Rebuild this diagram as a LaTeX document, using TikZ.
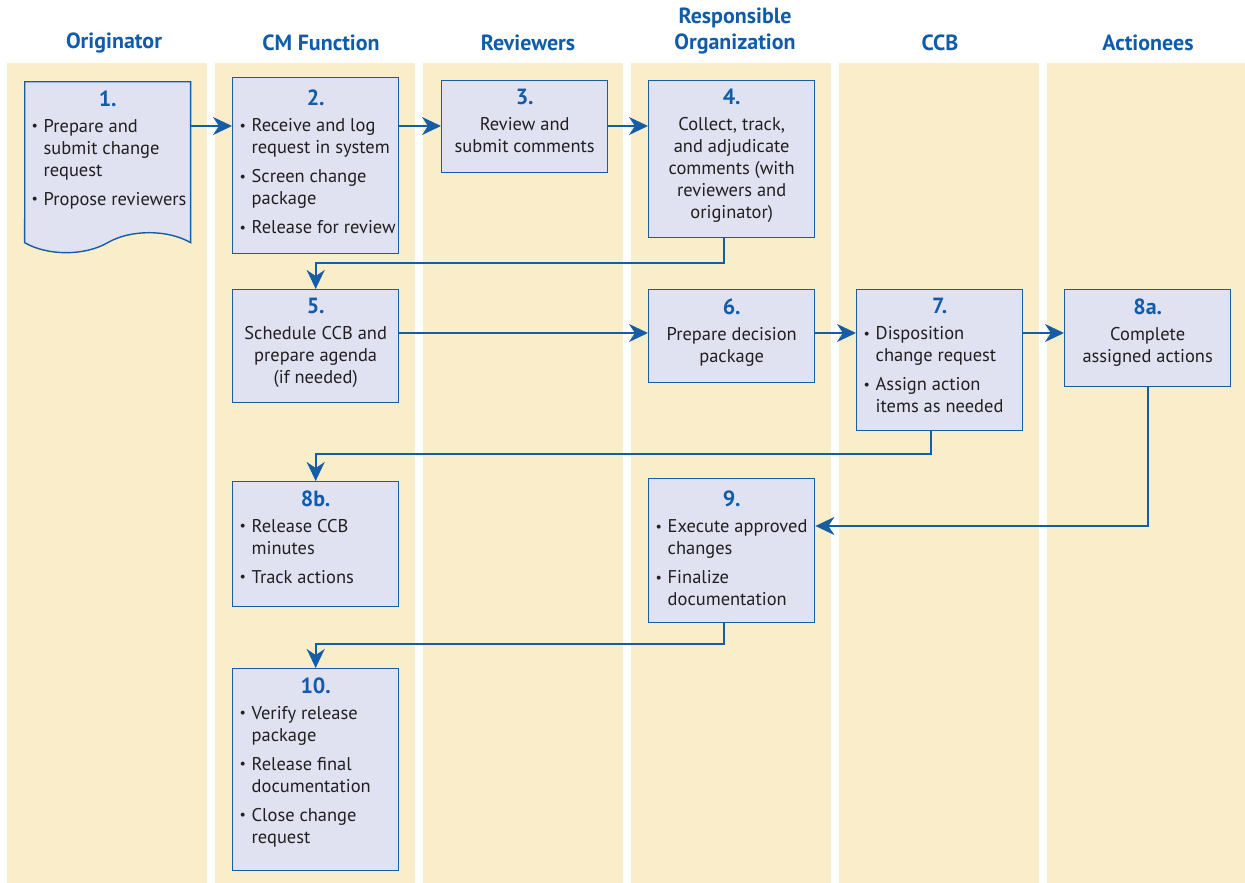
\documentclass[tikz,border=0pt]{standalone}
\usepackage{fontspec}
\setmainfont{PT Sans}
\usepackage{tikz}
\definecolor{laneyellow}{RGB}{249, 238, 201}
\definecolor{taskfill}{RGB}{224, 226, 242}
\definecolor{flowblue}{RGB}{22, 93, 168}
\definecolor{headblue}{RGB}{16, 92, 170}
\definecolor{textgray}{RGB}{35, 31, 32}
\usetikzlibrary{arrows.meta, shapes.symbols}

\newcommand{\taskbody}[2]{\parbox[c][#1][t]{3.32cm}{\fontsize{10.5}{12.5}\selectfont\color{textgray}\raggedright\vspace*{5pt}#2}}
\newcommand{\stepno}[1]{{\centering\color{headblue}\fontsize{12.5}{14}\selectfont\bfseries #1\par}\vspace{2.3pt}}
\newcommand{\bdot}{\raisebox{0.15ex}{\footnotesize\textbullet}}
\newcommand{\bitem}[1]{\par\begingroup\leftskip=0.38cm\noindent\llap{\makebox[0.24cm][l]{\bdot}}#1\par\endgroup\vspace{4pt}}
\newcommand{\ctext}[1]{\par{\centering #1\par}}

\begin{document}
\begin{tikzpicture}[
    x=0.02cm, y=-0.02cm,
    lane/.style={fill=laneyellow},
    lanehead/.style={text=headblue, font=\fontsize{12.5}{14.7}\selectfont\bfseries, align=center, inner sep=0pt},
    taskbox/.style={draw=flowblue, line width=0.8pt, fill=taskfill, inner sep=0pt, anchor=north west},
    flow/.style={draw=flowblue, line width=1.1pt, -{Stealth[length=3.8mm, width=3.6mm, inset=1.2mm]}}
]
    \useasboundingbox (0,0) rectangle (1245,883);

    \fill[lane] (7,63) rectangle (207,883);
    \fill[lane] (215,63) rectangle (415,883);
    \fill[lane] (423,63) rectangle (623,883);
    \fill[lane] (631,63) rectangle (831,883);
    \fill[lane] (839,63) rectangle (1039,883);
    \fill[lane] (1047,63) rectangle (1245,883);

    \node[lanehead] (h1) at (114,43) {Originator};
    \node[lanehead] (h2) at (321,43) {CM Function};
    \node[lanehead] (h3) at (528,43) {Reviewers};
    \node[lanehead] (h4) at (735,31) {Responsible\\Organization};
    \node[lanehead] (h5) at (940,43) {CCB};
    \node[lanehead] (h6) at (1148,43) {Actionees};

    \coordinate (row1) at (0,126);
    \coordinate (row2) at (0,333);

    \node[taskbox, shape=tape, tape bend top=none, tape bend bottom=in and out, tape bend height=0.4cm] (s1) at (24,81) {
        \taskbody{3.02cm}{\stepno{1.}\bitem{Prepare and\\submit change\\request}\bitem{Propose reviewers}}
    };
    \node[taskbox] (s2) at (232,77) {
        \taskbody{3.52cm}{\vspace*{2pt}\stepno{2.}\bitem{Receive and log\\request in system}\bitem{Screen change\\package}\bitem{Release for review}}
    };
    \node[taskbox] (s3) at (441,80) {
        \taskbody{1.84cm}{\stepno{3.}\ctext{Review and\\submit comments}}
    };
    \node[taskbox] (s4) at (648,80) {
        \taskbody{3.14cm}{\stepno{4.}\ctext{Collect, track,\\and adjudicate\\comments (with\\reviewers and\\originator)}}
    };
    \node[taskbox] (s5) at (232,289) {
        \taskbody{2.26cm}{\stepno{5.}\ctext{Schedule CCB and\\prepare agenda\\(if needed)}}
    };
    \node[taskbox] (s6) at (648,289) {
        \taskbody{1.86cm}{\stepno{6.}\ctext{Prepare decision\\package}}
    };
    \node[taskbox] (s7) at (856,289) {
        \taskbody{2.82cm}{\stepno{7.}\bitem{Disposition\\change request}\bitem{Assign action\\items as needed}}
    };
    \node[taskbox] (s8a) at (1064,289) {
        \taskbody{1.94cm}{\stepno{8a.}\ctext{Complete\\assigned actions}}
    };
    \node[taskbox] (s8b) at (232,481) {
        \taskbody{2.50cm}{\stepno{8b.}\bitem{Release CCB\\minutes}\bitem{Track actions}}
    };
    \node[taskbox] (s9) at (648,478) {
        \taskbody{2.88cm}{\vspace*{2pt}\stepno{9.}\bitem{Execute approved\\changes}\bitem{Finalize\\documentation}}
    };
    \node[taskbox] (s10) at (232,668) {
        \taskbody{4.04cm}{\stepno{10.}\bitem{Verify release\\package}\bitem{Release final\\documentation}\bitem{Close change\\request}}
    };

    \draw[flow] (s1.east |- row1) -- (s2.west |- row1);
    \draw[flow] (s2.east |- row1) -- (s3.west |- row1);
    \draw[flow] (s3.east |- row1) -- (s4.west |- row1);
    \draw[flow] ([xshift=-0.16cm]s4.south) -- ++(0,25) -| (s5.north);
    \draw[flow] (s5.east |- row2) -- (s6.west |- row2);
    \draw[flow] (s6.east |- row2) -- (s7.west |- row2);
    \draw[flow] (s7.east |- row2) -- (s8a.west |- row2);
    \draw[flow] ([xshift=-0.18cm]s7.south) -- ++(0,23) -| (s8b.north);
    \draw[flow] (s8a.south) |- ([yshift=-0.96cm]s9.north east);
    \draw[flow] ([xshift=-0.16cm]s9.south) -- ++(0,21) -| (s10.north);
\end{tikzpicture}
\end{document}
